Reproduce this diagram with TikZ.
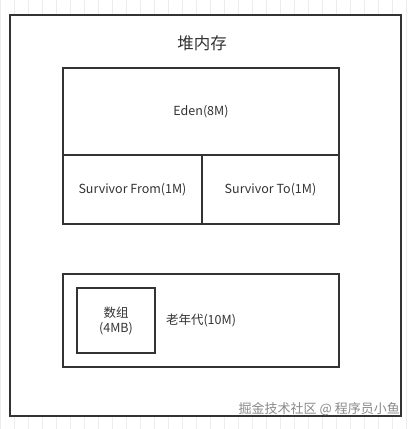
\documentclass[tikz,border=0pt]{standalone}
\usepackage{fontspec}
\setmainfont{Noto Sans CJK SC}
\usetikzlibrary{positioning}
\definecolor{hline}{HTML}{333333}
\definecolor{htext}{HTML}{333333}
\definecolor{hgrid}{HTML}{EDEDED}
\definecolor{hmark}{HTML}{8A8A8A}
\tikzset{
  heapbox/.style={draw=hline, line width=2.4pt, fill=white},
  genbox/.style={draw=hline, line width=2pt, fill=white, text=htext,
                 font=\fontsize{12.5}{15}\selectfont, inner sep=0pt},
  markbox/.style={text=hmark, font=\fontsize{13}{15}\selectfont, inner sep=1pt},
}

\begin{document}
\begin{tikzpicture}[x=1pt, y=-1pt]
    \useasboundingbox (0,0) rectangle (413,429);
    \draw[hgrid, line width=0.8pt, step=14] (0,0) grid (413,429);

    % heap
    \draw[heapbox] (10,15) rectangle (401,416);
    \node[text=htext, font=\fontsize{16.5}{18}\selectfont] (heap) at (202,43) {堆内存};

    % young generation
    \node[genbox, minimum width=276, minimum height=87] (eden) at (201,111.5) {Eden(8M)};
    \node[genbox, minimum width=139, minimum height=69] (from) at (132.5,189.5) {Survivor From(1M)};
    \node[genbox, minimum width=137, minimum height=69] (to) at (270.5,189.5) {Survivor To(1M)};

    % old generation
    \node[genbox, minimum width=276, minimum height=93] (old) at (201,320.5) {老年代(10M)};
    \node[genbox, minimum width=78, minimum height=65, align=center] (arr) at (116,320.5) {数组\\(4MB)};

    \node[markbox, anchor=east] (mark) at (401,409) {掘金技术社区 @ 程序员小鱼};
\end{tikzpicture}
\end{document}
